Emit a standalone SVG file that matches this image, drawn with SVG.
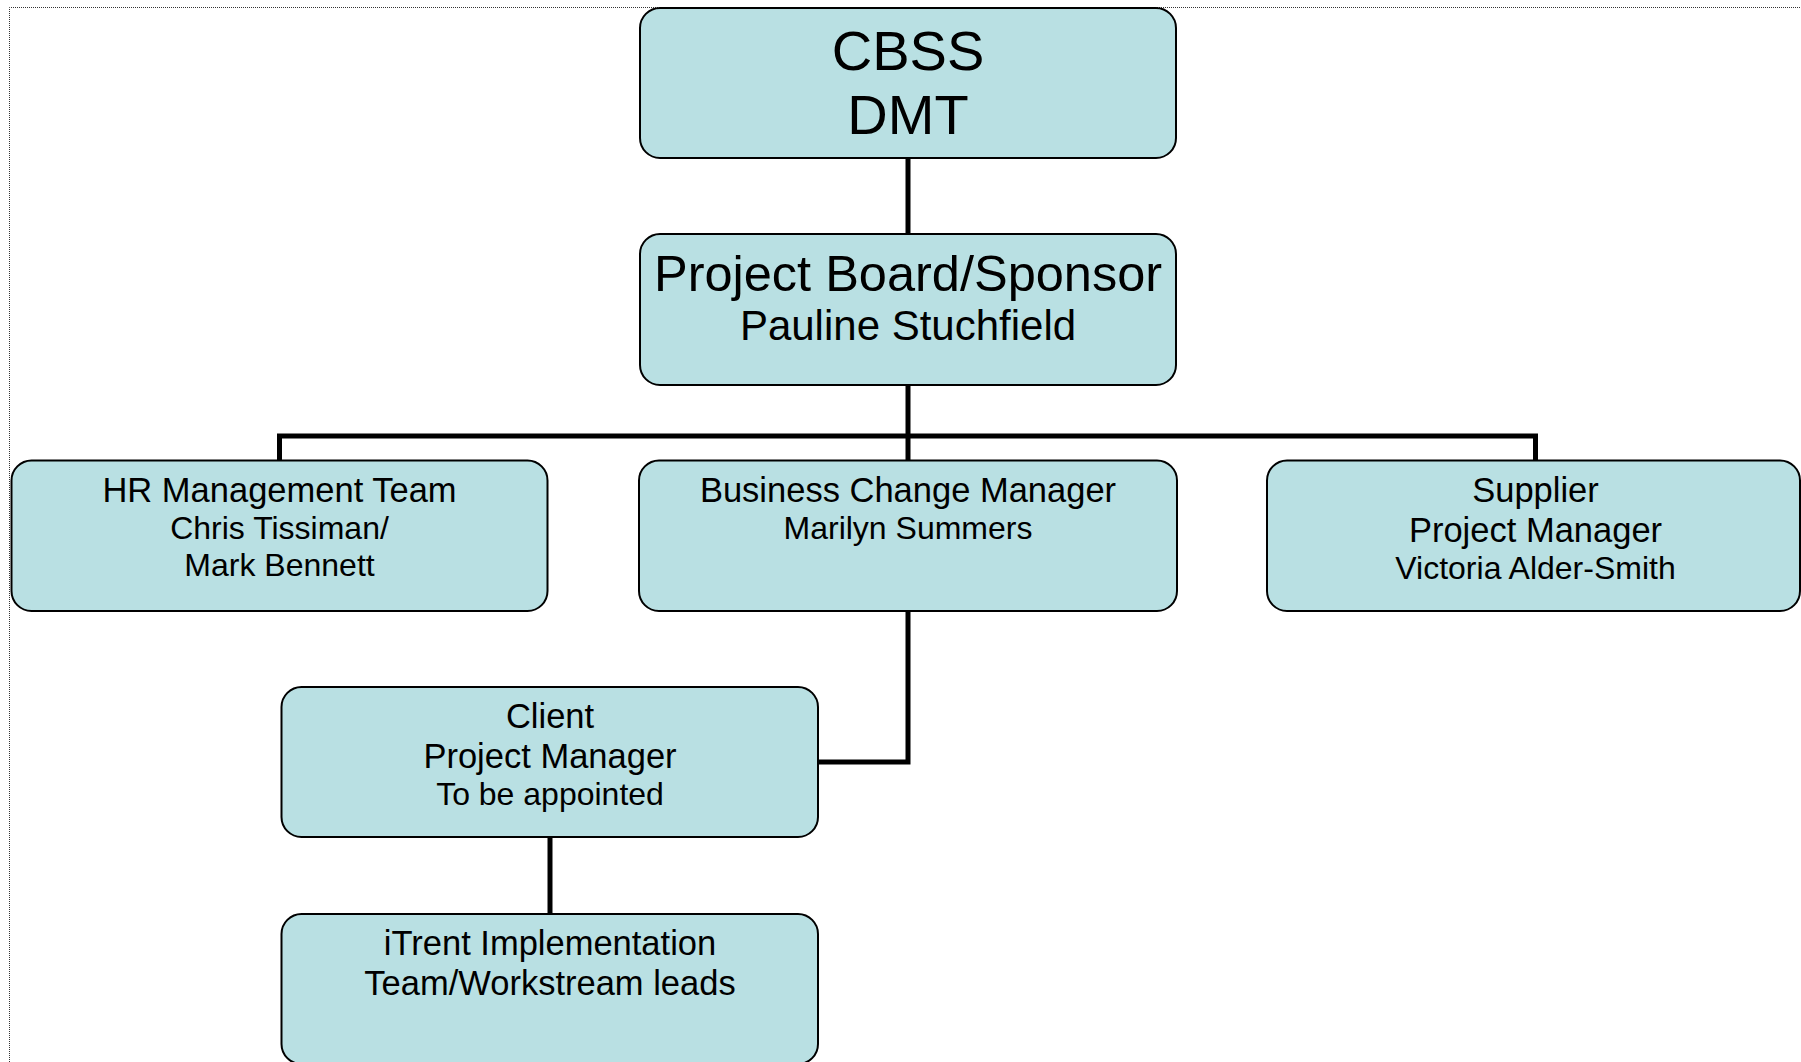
<svg xmlns="http://www.w3.org/2000/svg" width="1801" height="1062" viewBox="0 0 1801 1062">
  <style>
    .box { fill: #B9E0E3; stroke: #000; stroke-width: 2; }
    .t { font-family: "Liberation Sans", Arial, sans-serif; fill: #000; text-anchor: middle; }
    .xl { font-size: 56px; }
    .l { font-size: 50.5px; }
    .m { font-size: 42px; }
    .h { font-size: 34.5px; }
    .s { font-size: 32px; }
    .link { fill: none; stroke: #000; stroke-width: 5; stroke-linejoin: miter; }
    .frame { fill: none; stroke: #333; stroke-width: 1; stroke-dasharray: 1 1; }
  </style>

  <!-- page frame -->
  <path class="frame" d="M9.5 1062 V7.5 H1801"/>

  <g id="connectors">
    <path class="link" d="M908 158 V234"/>
    <path class="link" d="M908 385 V436"/>
    <path class="link" d="M279.5 460 V436 H1535.5 V460"/>
    <path class="link" d="M908 436 V460"/>
    <path class="link" d="M908 611 V762 H818"/>
    <path class="link" d="M550 837 V914"/>
  </g>

  <g id="node-cbss">
    <rect class="box" x="640" y="8" width="536" height="150" rx="20"/>
    <text class="t xl" x="908" y="70">CBSS</text>
    <text class="t xl" x="908" y="134">DMT</text>
  </g>

  <g id="node-board">
    <rect class="box" x="640" y="234" width="536" height="151" rx="20"/>
    <text class="t l" x="908" y="291">Project Board/Sponsor</text>
    <text class="t m" x="908" y="340">Pauline Stuchfield</text>
  </g>

  <g id="node-hr">
    <rect class="box" x="11.5" y="460.5" width="536" height="150.5" rx="20"/>
    <text class="t h" x="279.5" y="502">HR Management Team</text>
    <text class="t s" x="279.5" y="539">Chris Tissiman/</text>
    <text class="t s" x="279.5" y="576">Mark Bennett</text>
  </g>

  <g id="node-bcm">
    <rect class="box" x="639" y="460.5" width="538" height="150.5" rx="20"/>
    <text class="t h" x="908" y="502">Business Change Manager</text>
    <text class="t s" x="908" y="539">Marilyn Summers</text>
  </g>

  <g id="node-supplier">
    <rect class="box" x="1267" y="460.5" width="533" height="150.5" rx="20"/>
    <text class="t h" x="1535.5" y="502">Supplier</text>
    <text class="t h" x="1535.5" y="542">Project Manager</text>
    <text class="t s" x="1535.5" y="579">Victoria Alder-Smith</text>
  </g>

  <g id="node-client">
    <rect class="box" x="281.5" y="687" width="536.5" height="150" rx="20"/>
    <text class="t h" x="550" y="728">Client</text>
    <text class="t h" x="550" y="768">Project Manager</text>
    <text class="t s" x="550" y="805">To be appointed</text>
  </g>

  <g id="node-itrent">
    <rect class="box" x="281.5" y="914" width="536.5" height="150" rx="20"/>
    <text class="t h" x="550" y="955">iTrent Implementation</text>
    <text class="t h" x="550" y="995">Team/Workstream leads</text>
  </g>
</svg>
